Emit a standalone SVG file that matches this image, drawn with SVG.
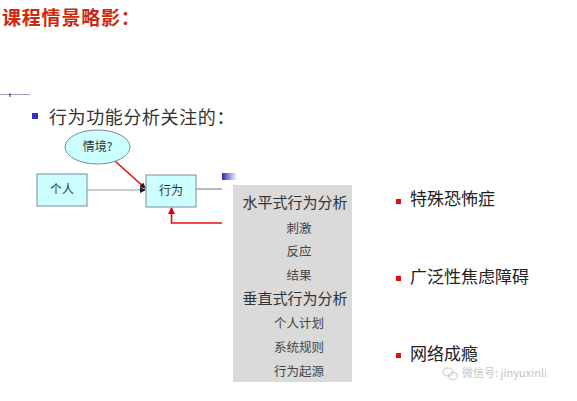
<svg xmlns="http://www.w3.org/2000/svg" width="577" height="401" viewBox="0 0 577 401">
<style>
.t{font-family:"Noto Sans CJK SC","Noto Sans",sans-serif;}
.box{fill:#CCFFFF;stroke:#7A8A99;stroke-width:1}
.lab{font-size:12px;fill:#333;text-anchor:middle}
.g{font-size:12.5px;fill:#444;text-anchor:middle}
.gb{font-size:15px;fill:#333;text-anchor:middle}
.rb{font-size:17px;fill:#222}
</style>
<defs>
<marker id="ah" markerWidth="6" markerHeight="6" refX="5" refY="3" orient="auto" markerUnits="userSpaceOnUse">
<path d="M0,0 L6,3 L0,6 z" fill="#222"/>
</marker>
<marker id="ahr" markerWidth="7" markerHeight="7" refX="6" refY="3.5" orient="auto" markerUnits="userSpaceOnUse">
<path d="M0,0 L7,3.5 L0,7 z" fill="#D00"/>
</marker>
<linearGradient id="bg" x1="0" x2="1" y1="0" y2="0">
<stop offset="0" stop-color="#2A2AB8"/>
<stop offset="1" stop-color="#FFFFFF"/>
</linearGradient>
</defs>
<rect width="577" height="401" fill="#FFFFFF"/>
<text class="t" x="2" y="25" font-size="19" font-weight="bold" fill="#CC2A10" letter-spacing="0.8">课程情景略影：</text>
<g id="tick">
<line x1="0" y1="94.5" x2="30" y2="94.5" stroke="#9AA0C8" stroke-width="1"/>
<line x1="10" y1="93" x2="10" y2="97" stroke="#333" stroke-width="1"/>
</g>
<rect x="32" y="113" width="6" height="6" fill="#3333CC"/>
<text class="t" x="49" y="124" font-size="18" fill="#333" letter-spacing="0.6">行为功能分析关注的：</text>
<g id="connectors" fill="none">
<line x1="87" y1="190" x2="145" y2="190" stroke="#999" stroke-width="1.2" marker-end="url(#ah)"/>
<line x1="196" y1="189" x2="222" y2="189" stroke="#777" stroke-width="1"/>
<line x1="115" y1="161" x2="145" y2="188" stroke="#E01010" stroke-width="1.6" marker-end="url(#ah)"/>
<path d="M222,223 H171.5 V208" stroke="#E01010" stroke-width="1.6" marker-end="url(#ahr)"/>
</g>
<g id="situation">
<ellipse cx="97.5" cy="147" rx="32.5" ry="17" class="box"/>
<text class="t lab" x="97.5" y="151">情境?</text>
</g>
<g id="person">
<rect x="37" y="174" width="50" height="32" class="box"/>
<text class="t lab" x="62" y="194">个人</text>
</g>
<g id="behavior">
<rect x="146" y="175" width="50" height="32" class="box"/>
<text class="t lab" x="171" y="195">行为</text>
</g>
<rect x="222" y="173" width="15" height="7" fill="url(#bg)"/>
<g id="analysis">
<rect x="233" y="185" width="119" height="197" fill="#DADADA"/>
<text class="t gb" x="295" y="208">水平式行为分析</text>
<text class="t g" x="299" y="233">刺激</text>
<text class="t g" x="299" y="256">反应</text>
<text class="t g" x="299" y="280">结果</text>
<text class="t gb" x="295" y="304">垂直式行为分析</text>
<text class="t g" x="299" y="328">个人计划</text>
<text class="t g" x="299" y="352">系统规则</text>
<text class="t g" x="299" y="376">行为起源</text>
</g>
<g id="examples">
<rect x="396" y="199" width="5" height="5" fill="#E01010"/>
<text class="t rb" x="410" y="205">特殊恐怖症</text>
<rect x="396" y="276" width="5" height="5" fill="#E01010"/>
<text class="t rb" x="410" y="283">广泛性焦虑障碍</text>
<rect x="396" y="353" width="5" height="5" fill="#E01010"/>
<text class="t rb" x="410" y="360">网络成瘾</text>
</g>
<g id="watermark">
<ellipse cx="448" cy="372" rx="5" ry="4" fill="none" stroke="#CCC" stroke-width="1.2"/>
<ellipse cx="453" cy="376" rx="4.5" ry="3.5" fill="none" stroke="#CCC" stroke-width="1.2"/>
<text class="t" x="462" y="377" font-size="11" fill="#C4C4C4">微信号: jinyuxinli</text>
</g>
</svg>
